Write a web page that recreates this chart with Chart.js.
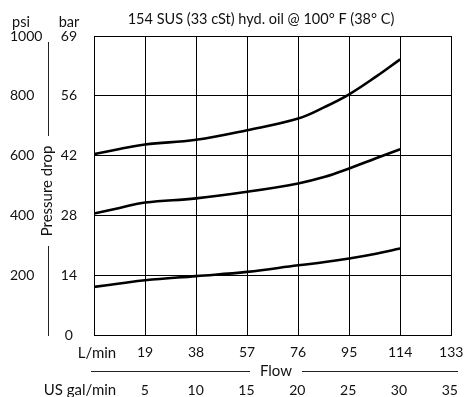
<!DOCTYPE html>
<html>
<head>
<meta charset="utf-8">
<script src="https://cdn.jsdelivr.net/npm/chart.js@4"></script>
<style>
  body { margin: 0; background: #fff; }
  canvas { display: block; }
</style>
</head>
<body>
<canvas id="chart" width="475" height="397"></canvas>
<script>
// flow in L/min, pressure drop in psi
const flow = [0, 9.5, 19, 38, 57, 76, 86, 95, 105, 114];
const upper = [605, 622, 637, 653, 685, 724, 763, 805, 864, 922];
const middle = [406, 425, 443, 457, 479, 507, 529, 557, 591, 621];
const lower = [161, 172, 183, 197, 211, 233, 244, 256, 272, 289];

const flowTicks = [0, 19, 38, 57, 76, 95, 114, 133];
const galTicks = [5, 10, 15, 20, 25, 30, 35];
const psiTicks = [0, 200, 400, 600, 800, 1000];
const barTicks = [0, 14, 28, 42, 56, 69];

const FONT = "Lato, 'Open Sans', sans-serif";
Chart.defaults.font.family = FONT;
Chart.defaults.font.size = 14;
Chart.defaults.color = "#111";

function series(vals) {
  return {
    data: flow.map((f, i) => ({ x: f, y: vals[i] })),
    borderColor: "#000",
    borderWidth: 2.6,
    pointRadius: 0,
    tension: 0.4,
    fill: false,
    xAxisID: "x",
    yAxisID: "y"
  };
}

const decor = {
  id: "decor",
  afterDraw(chart) {
    const ctx = chart.ctx;
    const a = chart.chartArea;
    ctx.save();
    ctx.fillStyle = "#111";
    ctx.strokeStyle = "#222";
    ctx.lineWidth = 1;
    ctx.textBaseline = "middle";
    ctx.textAlign = "center";

    ctx.font = "14.5px " + FONT;
    ctx.fillText("154 SUS (33 cSt) hyd. oil @ 100° F (38° C)", 261, 19);

    ctx.font = "14.5px " + FONT;
    ctx.fillText("psi", 21, 22);
    ctx.fillText("bar", 69, 22);

    // pressure drop label with side rules
    ctx.beginPath();
    ctx.moveTo(48.5, 42); ctx.lineTo(48.5, 136);
    ctx.moveTo(48.5, 246); ctx.lineTo(48.5, a.bottom + 1);
    ctx.stroke();
    ctx.font = "15px " + FONT;
    ctx.save();
    ctx.translate(47, 191);
    ctx.rotate(-Math.PI / 2);
    ctx.fillText("Pressure drop", 0, 0);
    ctx.restore();

    // flow label with rules
    ctx.fillText("L/min", 97, 353);
    ctx.fillText("US gal/min", 80, 390);
    ctx.beginPath();
    ctx.moveTo(91, 371.5); ctx.lineTo(250, 371.5);
    ctx.moveTo(302, 371.5); ctx.lineTo(458, 371.5);
    ctx.stroke();
    ctx.fillText("Flow", 276, 371);
    ctx.restore();
  }
};

new Chart(document.getElementById("chart"), {
  type: "line",
  data: { datasets: [series(upper), series(middle), series(lower)] },
  options: {
    responsive: false,
    devicePixelRatio: 1,
    animation: false,
    layout: { padding: { top: 36, right: 10, left: 10, bottom: 0 } },
    plugins: { legend: { display: false }, tooltip: { enabled: false } },
    scales: {
      x: {
        type: "linear",
        position: "bottom",
        min: 0,
        max: 133,
        afterBuildTicks: s => { s.ticks = flowTicks.map(v => ({ value: v })); },
        afterFit: s => { s.height = 30; },
        ticks: { padding: 9, maxRotation: 0, callback: v => (v === 0 ? "" : v) },
        grid: { color: "#000", lineWidth: 1, drawTicks: false },
        border: { color: "#000" }
      },
      x2: {
        type: "linear",
        position: "bottom",
        min: 0,
        max: 133 / 3.785,
        afterBuildTicks: s => { s.ticks = galTicks.map(v => ({ value: v })); },
        afterFit: s => { s.height = 32; },
        ticks: { padding: 17, maxRotation: 0 },
        grid: { display: false, drawTicks: false },
        border: { display: false }
      },
      yBar: {
        type: "linear",
        position: "left",
        min: 0,
        max: 1000,
        afterBuildTicks: s => { s.ticks = psiTicks.map(v => ({ value: v })); },
        afterFit: s => { s.width = 48; },
        ticks: { padding: 17, crossAlign: "center", callback: (v, i) => barTicks[i] },
        grid: { display: false, drawTicks: false },
        border: { display: false }
      },
      y: {
        type: "linear",
        position: "left",
        min: 0,
        max: 1000,
        afterBuildTicks: s => { s.ticks = psiTicks.map(v => ({ value: v })); },
        afterFit: s => { s.width = 36; },
        ticks: { padding: 0, crossAlign: "far", callback: v => (v === 0 ? "" : v) },
        grid: { color: "#000", lineWidth: 1, drawTicks: false },
        border: { display: false }
      }
    }
  },
  plugins: [decor]
});
</script>
</body>
</html>
